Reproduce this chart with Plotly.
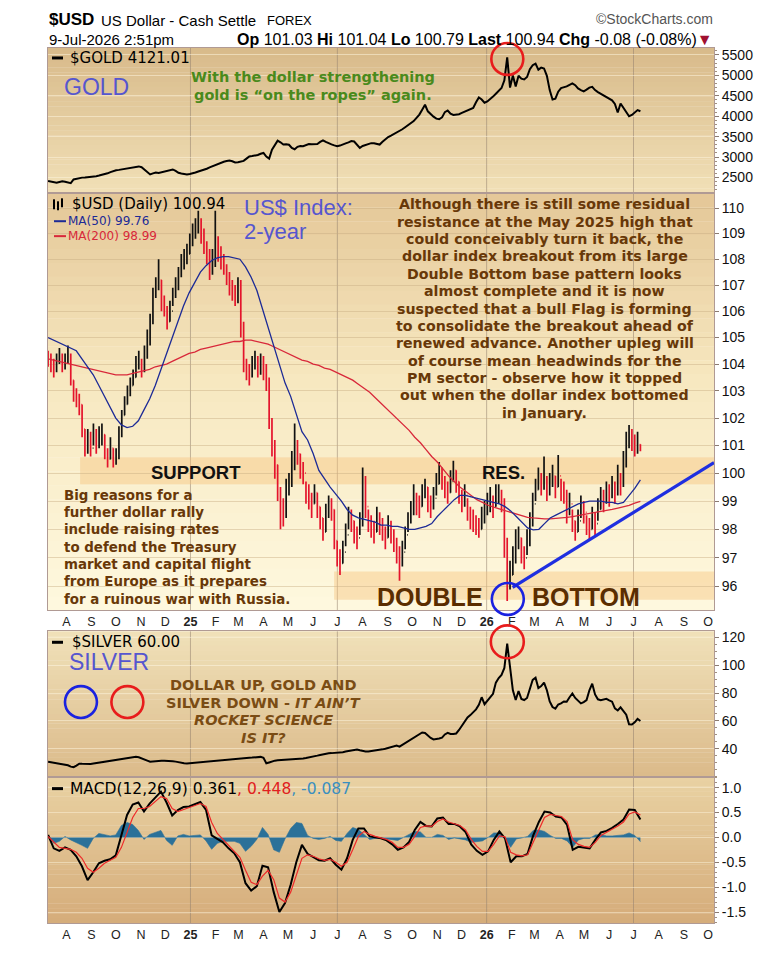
import numpy as np
import pandas as pd
import plotly.graph_objects as go

# ---------------- data ----------------
usd_close = [104.2,104.0,103.8,104.1,104.3,104.0,104.1,104.3,103.4,102.9,
102.7,102.5,101.6,100.9,101.1,100.9,101.5,101.0,101.3,101.4,
100.8,100.5,100.9,100.4,100.6,101.4,102.1,102.5,102.9,103.2,
103.5,104.0,104.1,103.8,104.3,104.8,105.6,106.6,106.9,107.2,
106.3,106.1,105.6,106.0,106.6,106.9,107.4,107.9,108.0,108.2,
108.6,108.9,109.2,109.5,108.9,108.6,108.3,107.6,107.8,108.6,
108.3,108.0,107.7,107.4,107.0,106.8,106.6,106.7,105.5,104.0,
103.8,103.6,103.9,104.2,103.8,104.0,103.9,103.4,101.8,101.0,
100.3,99.4,98.6,98.5,99.3,99.6,100.2,101.1,100.7,100.2,
100.0,99.3,99.1,98.9,99.3,98.8,98.4,97.9,98.5,98.8,
98.7,97.6,97.0,96.8,97.2,97.8,98.4,98.3,97.9,97.7,
98.2,99.8,98.8,98.2,98.1,97.9,98.3,98.2,98.0,97.7,
98.1,97.9,97.6,97.3,97.0,97.2,97.8,98.3,98.6,99.2,
98.9,98.8,99.2,99.5,99.0,98.8,99.1,99.6,100.1,99.8,
99.5,99.3,99.7,100.1,99.7,99.3,99.0,99.2,98.7,98.4,
98.3,98.1,98.0,98.4,98.6,98.9,99.0,98.8,99.2,99.3,
99.0,97.6,96.2,96.4,96.9,97.6,97.7,97.2,97.0,97.5,
98.2,98.9,99.4,99.8,99.6,99.8,99.4,99.6,99.9,99.5,
99.9,99.4,99.3,98.6,98.9,98.3,97.9,98.3,98.8,98.6,
98.1,98.0,98.4,98.2,98.7,99.1,99.0,99.3,99.2,99.5,
99.3,99.8,99.6,100.3,101.0,101.4,101.2,101.0,101.03,100.94]

usd_high = [104.5,104.4,104.2,104.4,104.6,104.4,104.4,104.7,104.4,103.4,
103.1,102.9,102.5,101.6,101.6,101.5,101.8,101.6,101.7,101.8,
101.4,100.9,101.3,100.9,100.9,101.7,102.3,102.8,103.2,103.5,
103.8,104.3,104.5,104.2,104.7,105.3,105.9,106.9,107.3,108.0,
107.2,106.6,106.2,106.4,106.9,107.3,107.7,108.2,108.4,108.6,
109.0,109.4,109.6,109.9,109.6,109.2,108.7,108.4,108.4,109.9,
108.9,108.5,108.2,107.8,107.5,107.2,107.0,107.3,107.2,105.6,
104.2,104.0,104.3,104.5,104.3,104.4,104.3,104.0,103.5,102.0,
101.2,100.3,99.5,99.1,99.8,100.0,100.8,101.8,101.2,100.7,
100.4,99.7,99.6,99.3,99.6,99.3,98.8,98.4,98.9,99.2,
99.1,98.7,97.6,97.3,97.6,98.2,98.8,98.7,98.3,98.1,
98.6,100.2,99.9,98.7,98.5,98.3,98.8,98.6,98.4,98.1,
98.5,98.3,98.0,97.7,97.4,97.6,98.1,98.6,99.0,99.6,
99.3,99.2,99.6,99.8,99.5,99.2,99.5,100.0,100.4,100.2,
99.9,99.7,100.1,100.45,100.1,99.7,99.4,99.6,99.1,98.8,
98.7,98.5,98.4,98.8,99.0,99.3,99.5,99.2,99.6,99.6,
99.4,99.1,97.7,96.9,97.4,98.0,98.1,97.7,97.4,98.0,
98.6,99.3,99.8,100.2,100.0,100.6,99.9,100.0,100.3,99.9,
100.65,99.8,99.7,99.4,99.3,98.7,98.3,98.7,99.2,99.0,
98.5,98.4,98.8,98.6,99.1,99.5,99.4,99.7,99.6,99.9,
99.7,100.3,100.0,100.8,101.5,101.75,101.6,101.4,101.5,101.04]

usd_low = [103.9,103.7,103.5,103.7,104.0,103.7,103.8,104.0,103.2,102.6,
102.4,102.1,101.3,100.6,100.7,100.6,101.0,100.7,100.9,101.0,
100.5,100.2,100.5,100.2,100.3,100.5,101.3,102.1,102.5,102.8,
103.2,103.5,103.8,103.5,103.7,104.2,104.7,105.5,106.5,106.8,
106.0,105.8,105.3,105.6,106.2,106.5,106.8,107.3,107.6,107.8,
108.2,108.5,108.8,109.0,108.6,108.2,107.8,107.2,107.4,107.7,
107.9,107.6,107.4,107.0,106.6,106.4,106.2,106.3,105.0,103.7,
103.4,103.2,103.5,103.8,103.5,103.6,103.4,103.0,101.6,100.6,
99.8,99.0,98.0,98.1,98.4,99.2,99.5,100.1,100.3,99.8,
99.6,98.9,98.7,98.4,98.9,98.4,98.0,97.6,97.9,98.4,
98.3,97.3,96.7,96.4,96.8,97.4,98.0,97.9,97.5,97.3,
97.8,98.1,98.4,97.9,97.7,97.5,97.9,97.8,97.6,97.3,
97.7,97.5,97.2,96.8,96.2,96.7,97.3,97.9,98.2,98.5,
98.5,98.4,98.8,99.1,98.6,98.4,98.7,99.2,99.6,99.4,
99.1,98.9,99.3,99.7,99.3,98.9,98.6,98.8,98.3,98.0,
97.9,97.8,97.7,98.0,98.2,98.5,98.6,98.4,98.8,98.9,
98.6,97.0,95.5,95.9,96.4,96.8,97.3,96.8,96.6,97.1,
97.4,98.1,99.0,99.4,99.2,99.4,99.0,99.2,99.5,99.1,
99.5,99.0,98.9,98.2,98.5,97.9,97.6,97.9,98.4,98.2,
97.8,97.6,98.0,97.8,98.3,98.7,98.6,98.9,98.8,99.1,
98.9,99.2,99.2,99.5,100.2,100.9,100.8,100.6,100.7,100.79]

gold_close = [2410,2400,2385,2372,2390,2405,2395,2370,2360,2450,
2470,2488,2495,2500,2505,2510,2515,2530,2545,2560,
2580,2600,2630,2655,2675,2685,2695,2705,2712,2725,
2736,2750,2770,2750,2690,2620,2573,2600,2620,2610,
2625,2640,2655,2675,2695,2660,2615,2595,2585,2573,
2585,2598,2620,2645,2665,2690,2712,2745,2775,2805,
2830,2860,2885,2900,2915,2895,2865,2870,2885,2905,
2960,3015,3025,3032,3050,3080,3100,3010,2960,3180,
3290,3400,3360,3305,3315,3300,3220,3190,3250,3270,
3265,3290,3318,3315,3310,3320,3370,3410,3370,3330,
3310,3285,3265,3280,3300,3335,3360,3390,3380,3300,
3225,3270,3300,3320,3340,3335,3320,3305,3375,3445,
3490,3525,3560,3595,3630,3680,3730,3780,3830,3880,
3960,4040,4160,4280,4120,4050,3990,3940,3925,3970,
4100,4140,4060,4030,4040,4050,4080,4110,4130,4165,
4200,4340,4460,4410,4330,4360,4410,4480,4550,4620,
4690,4880,5440,4700,5000,4730,4990,4920,4900,4960,
5150,5250,5290,5140,5190,5170,4990,4640,4410,4430,
4600,4690,4710,4730,4770,4805,4760,4680,4640,4610,
4650,4700,4720,4640,4590,4550,4515,4480,4450,4390,
4300,4090,4310,4200,4120,4000,4030,4100,4150,4121.01]

silver_close = [30.7,30.3,29.9,29.5,29.2,28.9,28.6,28.2,27.2,26.8,
28.0,29.3,29.2,29.0,29.2,29.1,29.4,29.7,30.0,30.4,
30.8,31.2,31.4,31.6,31.8,31.9,32.2,32.6,33.0,33.4,
33.8,34.2,33.9,32.9,32.3,31.5,30.7,31.0,31.3,31.4,
31.4,31.4,31.4,31.2,31.0,30.8,30.3,30.0,29.7,29.5,
29.7,29.9,30.0,30.1,30.3,30.5,30.7,31.0,31.3,31.7,
31.9,32.1,32.3,32.4,32.6,32.8,32.9,33.0,33.1,33.3,
33.5,33.6,33.7,33.9,34.0,34.2,33.5,29.6,30.2,30.9,
31.5,31.7,31.8,31.9,32.1,32.3,32.4,32.6,32.8,32.9,
33.1,33.4,33.7,34.1,34.6,35.1,35.6,36.1,36.6,36.8,
36.9,37.0,37.1,37.2,37.6,38.1,38.5,38.8,39.2,39.4,
38.9,38.4,38.0,38.1,38.3,38.5,38.7,39.1,39.6,40.1,
40.7,41.4,42.0,42.3,41.6,42.8,44.0,45.3,46.4,47.6,
48.9,50.4,51.7,51.3,49.2,47.8,46.7,46.9,47.4,48.0,
50.3,51.5,50.6,50.7,51.0,53.5,56.7,58.9,62.5,64.2,
65.9,68.3,71.5,77.0,72.0,74.4,76.8,79.5,87.5,90.8,
93.0,98.0,115.5,100.0,82.0,75.0,81.5,75.8,75.0,76.5,
83.5,89.5,91.0,83.6,85.0,87.5,82.0,74.0,70.0,68.8,
71.8,72.6,74.0,73.8,77.0,79.7,76.5,74.5,72.6,73.5,
75.0,82.0,86.7,79.0,75.5,74.9,75.5,75.9,74.8,73.8,
69.0,67.5,69.8,66.8,64.5,57.6,57.4,59.0,61.5,60.0]

ma50 = [105.0,104.9,104.8,104.7,104.6,104.5,104.2,103.9,103.6,103.2,
102.8,102.4,102.0,101.75,101.65,101.7,101.9,102.3,102.7,103.2,
103.8,104.4,105.0,105.6,106.2,106.7,107.1,107.5,107.75,107.95,
108.05,108.1,108.1,108.05,108.0,107.7,107.3,106.8,106.1,105.4,
104.7,104.0,103.3,102.8,102.1,101.5,101.2,100.7,100.1,99.8,
99.5,99.25,99.0,98.7,98.5,98.4,98.35,98.3,98.25,98.15,
98.15,98.1,98.1,98.05,98.0,98.0,98.05,98.1,98.2,98.45,
98.65,98.85,99.05,99.2,99.2,99.15,99.1,99.05,99.0,98.95,
98.9,98.8,98.65,98.45,98.25,98.05,97.98,98.0,98.2,98.4,
98.5,98.6,98.7,98.8,98.9,98.95,99.0,99.0,99.0,98.95,
98.95,98.9,98.95,99.2,99.45,99.76]

ma200 = [104.2,104.15,104.1,104.05,104.0,103.95,103.9,103.85,103.8,103.75,
103.7,103.65,103.6,103.6,103.6,103.65,103.7,103.75,103.8,103.9,
103.95,104.0,104.1,104.2,104.3,104.4,104.45,104.55,104.6,104.65,
104.7,104.75,104.8,104.85,104.85,104.9,104.9,104.85,104.8,104.75,
104.65,104.55,104.45,104.35,104.25,104.15,104.1,104.0,103.95,103.85,
103.8,103.7,103.6,103.5,103.4,103.25,103.1,102.95,102.75,102.55,
102.35,102.15,101.95,101.75,101.55,101.3,101.1,100.85,100.6,100.4,
100.15,99.9,99.7,99.5,99.35,99.2,99.05,98.95,98.85,98.78,
98.72,98.65,98.58,98.52,98.47,98.42,98.4,98.38,98.37,98.37,
98.38,98.4,98.42,98.45,98.48,98.52,98.56,98.6,98.63,98.66,
98.7,98.75,98.8,98.85,98.93,98.99]

macd_line = [0.05,-0.22,-0.27,-0.20,-0.25,-0.38,-0.58,-0.86,-0.70,-0.52,
-0.47,-0.44,-0.36,0.05,0.45,0.66,0.70,0.52,0.68,0.80,
0.92,0.70,0.44,0.55,0.61,0.62,0.66,0.71,0.55,0.04,
-0.03,-0.10,-0.22,-0.32,-0.50,-0.92,-1.07,-0.98,-0.57,-0.60,
-1.10,-1.50,-1.32,-0.95,-0.50,-0.15,-0.33,-0.40,-0.46,-0.47,
-0.42,-0.55,-0.65,-0.42,-0.05,0.18,0.18,0.02,0.00,-0.02,
-0.06,-0.14,-0.25,-0.20,-0.09,0.15,0.31,0.23,0.22,0.38,
0.40,0.27,0.27,0.22,0.11,-0.14,-0.27,-0.35,-0.28,-0.05,
0.12,-0.02,-0.50,-0.38,-0.38,-0.33,0.04,0.31,0.52,0.50,
0.42,0.40,0.25,-0.25,-0.19,-0.20,-0.22,-0.05,0.10,0.13,
0.19,0.27,0.36,0.56,0.55,0.361]

macd_signal = [0.02,-0.10,-0.20,-0.22,-0.24,-0.30,-0.42,-0.62,-0.70,-0.62,
-0.52,-0.46,-0.40,-0.20,0.10,0.40,0.58,0.58,0.62,0.72,
0.82,0.78,0.58,0.52,0.56,0.60,0.63,0.68,0.62,0.30,
0.08,-0.04,-0.15,-0.26,-0.40,-0.66,-0.90,-0.95,-0.78,-0.66,
-0.85,-1.22,-1.30,-1.10,-0.78,-0.42,-0.35,-0.38,-0.43,-0.46,
-0.44,-0.50,-0.58,-0.50,-0.25,0.02,0.12,0.06,0.02,-0.01,
-0.04,-0.10,-0.20,-0.20,-0.14,0.02,0.20,0.23,0.22,0.32,
0.37,0.31,0.28,0.24,0.15,-0.04,-0.18,-0.28,-0.28,-0.14,
0.03,0.01,-0.30,-0.35,-0.37,-0.35,-0.10,0.16,0.40,0.46,
0.44,0.42,0.32,-0.05,-0.14,-0.18,-0.20,-0.10,0.04,0.10,
0.16,0.23,0.31,0.47,0.51,0.448]

macd_hist = [0.03,-0.12,-0.08,0.02,-0.05,-0.10,-0.16,-0.22,-0.02,0.08,
0.05,0.03,0.05,0.24,0.30,0.26,0.14,-0.04,0.06,0.10,
0.14,-0.06,-0.16,0.03,0.06,0.03,0.04,0.05,-0.07,-0.24,
-0.12,-0.08,-0.08,-0.08,-0.12,-0.28,-0.18,-0.04,0.20,0.06,
-0.25,-0.30,-0.03,0.18,0.30,0.28,0.04,-0.02,-0.04,-0.02,
0.02,-0.06,-0.08,0.08,0.20,0.16,0.06,-0.04,-0.02,-0.01,
-0.03,-0.05,-0.06,0.00,0.06,0.12,0.11,0.00,0.00,0.06,
0.04,-0.04,-0.01,-0.03,-0.05,-0.10,-0.09,-0.07,0.00,0.09,
0.09,-0.03,-0.20,-0.03,-0.01,0.02,0.14,0.15,0.12,0.04,
-0.02,-0.02,-0.07,-0.20,-0.05,-0.02,-0.02,0.05,0.06,0.03,
0.03,0.04,0.05,0.09,0.04,-0.087]

first_open = 104.3
usd_open = [first_open] + usd_close[:-1]   # each bar opens at the prior close

daily_dates = pd.date_range("2024-07-09 12:00", "2026-07-09 12:00", periods=len(usd_close))
weekly_dates = pd.date_range("2024-07-09 12:00", "2026-07-09 12:00", periods=len(ma50))

month_labels = ["A","S","O","N","D","<b>25</b>","F","M","A","M","J","J","A","S","O",
                "N","D","<b>26</b>","F","M","A","M","J","J","A","S","O"]
month_ticks = pd.date_range("2024-08-01", periods=len(month_labels), freq="MS")
half_year_lines = ["2025-01-01", "2025-07-01", "2026-01-01", "2026-07-01"]

gold_ticks = [2500, 3000, 3500, 4000, 4500, 5000, 5500]
usd_ticks = list(range(96, 111))
silver_ticks = [40, 60, 80, 100, 120]
macd_ticks = [-1.5, -1.0, -0.5, 0.0, 0.5, 1.0]
macd_tick_text = ["-1.5", "-1.0", "-0.5", "0.0", "0.5", "1.0"]

support_band = (99.6, 100.57, "2024-08-18")
bottom_band = (95.55, 96.52, "2025-06-27")
trend_dates = ["2026-02-02", "2026-10-08 05:00"]
trend_vals = [95.97, 100.38]

X_RANGE = ["2024-07-09 09:30", "2026-10-08 05:00"]

# ---------------- geometry ----------------
W, H = 765, 954
L, R, T, B = 48, 715, 48, 927
def px(x): return (x - L) / (R - L)
def py(y): return (B - y) / (B - T)

P_GOLD = (48, 194)
P_USD = (194, 613)
P_SIL = (634, 780)
P_MACD = (780, 927)

BORDER = "#b09a94"
FONT = "Liberation Sans"
LEG = "DejaVu Sans"
WIDE = "DejaVu Sans"

shapes = []
annotations = []

def gradient(y_top, y_bot, stops, n=30):
    for k in range(n):
        t = (k + 0.5) / n
        for s in range(len(stops) - 1):
            if stops[s][0] <= t <= stops[s + 1][0]:
                t0, c0 = stops[s]; t1, c1 = stops[s + 1]
                f = (t - t0) / (t1 - t0)
                col = tuple(int(round(c0[i] + (c1[i] - c0[i]) * f)) for i in range(3))
                break
        ya = y_top + (y_bot - y_top) * k / n
        yb = y_top + (y_bot - y_top) * (k + 1) / n
        shapes.append(dict(type="rect", xref="paper", yref="paper", x0=0, x1=1,
                           y0=py(yb) - 0.0004, y1=py(ya), fillcolor="rgb(%d,%d,%d)" % col,
                           line=dict(width=0), layer="below"))

gradient(*P_GOLD, [(0, (216, 186, 138)), (1, (241, 224, 183))])
gradient(*P_USD, [(0, (228, 199, 152)), (0.45, (247, 232, 192)), (1, (254, 249, 223))])
gradient(*P_SIL, [(0, (240, 225, 185)), (1, (219, 186, 138))])
gradient(*P_MACD, [(0, (233, 210, 163)), (1, (213, 172, 122))])

for (yt, yb) in (P_GOLD, P_USD, P_SIL, P_MACD):
    for d in half_year_lines:
        shapes.append(dict(type="line", xref="x", yref="paper", x0=d, x1=d, y0=py(yb), y1=py(yt),
                           line=dict(color="rgba(150,130,112,0.55)", width=1), layer="below"))

for lo, hi, start in (support_band, bottom_band):
    shapes.append(dict(type="rect", xref="x2", yref="y2", x0=start, x1=X_RANGE[1], y0=lo, y1=hi,
                       fillcolor="rgba(246,192,122,0.42)", line=dict(width=0), layer="below"))

shapes.append(dict(type="line", xref="x2", yref="y2", x0=trend_dates[0], x1=trend_dates[1],
                   y0=trend_vals[0], y1=trend_vals[1], line=dict(color="#1f2fe0", width=3.2), layer="above"))

def circle(cx, cy, r, color):
    shapes.append(dict(type="circle", xref="paper", yref="paper",
                       x0=px(cx - r), x1=px(cx + r), y0=py(cy + r), y1=py(cy - r),
                       line=dict(color=color, width=2.6), layer="above"))

circle(508, 59, 16, "#e81c1c")
circle(508.5, 601.5, 16, "#1a22e0")
circle(508, 644.5, 16.5, "#e81c1c")
circle(81, 705, 16, "#1a22e0")
circle(127.5, 705, 16, "#e81c1c")

def dash(x0, x1, y, color, w=3):
    shapes.append(dict(type="line", xref="paper", yref="paper", x0=px(x0), x1=px(x1), y0=py(y), y1=py(y),
                       line=dict(color=color, width=w), layer="above"))

dash(52, 63, 58, "black")
dash(54, 66, 222, "#1c2a96", 2)
dash(54, 66, 237, "#d8283a", 2)
dash(52, 63, 645, "black")
dash(52, 63, 792, "black")
for xx, y0, y1 in ((54, 200, 210), (58, 202, 211), (62, 199, 208)):
    shapes.append(dict(type="line", xref="paper", yref="paper", x0=px(xx), x1=px(xx), y0=py(y1), y1=py(y0),
                       line=dict(color="black", width=2), layer="above"))

def txt(s, x, y, size, color="#000", bold=False, anchor="left", family=FONT):
    if bold:
        s = "<b>" + s + "</b>"
    annotations.append(dict(text=s, x=px(x), y=py(y), xref="paper", yref="paper", xanchor=anchor,
                            yanchor="middle", showarrow=False, font=dict(size=size, color=color, family=family)))

# header
txt("$USD", 47, 19, 17, bold=True)
txt("US Dollar - Cash Settle", 99, 20, 15)
txt("FOREX", 265, 20, 13)
txt("©StockCharts.com", 716, 19, 14, color="#555", anchor="right")
txt("9-Jul-2026 2:51pm", 47, 39, 15)
txt("<b>Op</b> 101.03 <b>Hi</b> 101.04 <b>Lo</b> 100.79 <b>Last</b> 100.94 <b>Chg</b> -0.08 (-0.08%)"
    "<span style='color:#a01030'>▼</span>", 716, 39, 16, anchor="right")

# legends
txt("$GOLD 4121.01", 68, 58, 15, family=LEG)
txt("$USD (Daily) 100.94", 70, 205, 15, family=LEG)
txt("MA(50) 99.76", 66, 222, 12, color="#1c2a96", family=LEG)
txt("MA(200) 98.99", 66, 237, 12, color="#d8283a", family=LEG)
txt("$SILVER 60.00", 70, 645, 15, family=LEG)
txt("MACD(12,26,9) 0.361<span style='color:#e02020'>, 0.448</span><span style='color:#3a8fc0'>, -0.087</span>",
    68, 792, 15.5, family=LEG)

BLUE = "#5656cf"
txt("GOLD", 62, 87, 23, color=BLUE)
txt("US$ Index:", 242, 208, 22, color=BLUE)
txt("2-year", 242, 232, 22, color=BLUE)
txt("SILVER", 67, 665, 23, color=BLUE)

GREEN = "#4a8a1c"
txt("With the dollar strengthening", 313, 77, 14.5, color=GREEN, bold=True, anchor="center", family=WIDE)
txt("gold is “on the ropes” again.", 313, 95, 14.5, color=GREEN, bold=True, anchor="center", family=WIDE)

BROWN = "#683808"
para = ["Although there is still some residual",
        "resistance at the May 2025 high that",
        "could conceivably turn it back, the",
        "dollar index breakout from its large",
        "Double Bottom base pattern looks",
        "almost complete and it is now",
        "suspected that a bull Flag is forming",
        "to consolidate the breakout ahead of",
        "renewed advance. Another upleg will",
        "of course mean headwinds for the",
        "PM sector - observe how it topped",
        "out when the dollar index bottomed",
        "in January."]
for k, line in enumerate(para):
    txt(line, 545.5, 205 + 17.45 * k, 14.2, color=BROWN, bold=True, anchor="center", family=WIDE)

reasons = ["Big reasons for a",
           "further dollar rally",
           "include raising rates",
           "to defend the Treasury",
           "market and capital flight",
           "from Europe as it prepares",
           "for a ruinous war with Russia."]
for k, line in enumerate(reasons):
    txt(line, 62, 497.3 + 17.4 * k, 13.4, color=BROWN, bold=True, family=WIDE)

txt("SUPPORT", 196, 474, 18.5, color="#111", bold=True, anchor="center")
txt("RES.", 504, 474, 18.5, color="#111", bold=True, anchor="center")
txt("DOUBLE", 431, 600, 25, color="#5a2d00", bold=True, anchor="center")
txt("BOTTOM", 587, 600, 25, color="#5a2d00", bold=True, anchor="center")

SBROWN = "#7a4c14"
sil = ["DOLLAR UP, GOLD AND", "SILVER DOWN - <i>IT AIN’T</i>", "<i>ROCKET SCIENCE</i>", "<i>IS IT?</i>"]
for k, line in enumerate(sil):
    txt(line, 263.5, 688.3 + 17.6 * k, 14.5, color=SBROWN, bold=True, anchor="center", family=WIDE)

# ---------------- traces ----------------
fig = go.Figure()
fig.add_trace(go.Scatter(x=daily_dates, y=gold_close, mode="lines", line=dict(color="black", width=2),
                         xaxis="x", yaxis="y", hoverinfo="skip"))
fig.add_trace(go.Ohlc(x=daily_dates, open=usd_open, high=usd_high, low=usd_low, close=usd_close,
                      increasing=dict(line=dict(color="#111111", width=1.7)),
                      decreasing=dict(line=dict(color="#e4142c", width=1.7)),
                      tickwidth=0.25, xaxis="x2", yaxis="y2", hoverinfo="skip"))
fig.add_trace(go.Scatter(x=weekly_dates, y=ma200, mode="lines", line=dict(color="#d8283a", width=1.3),
                         xaxis="x2", yaxis="y2", hoverinfo="skip"))
fig.add_trace(go.Scatter(x=weekly_dates, y=ma50, mode="lines", line=dict(color="#1c2a96", width=1.3),
                         xaxis="x2", yaxis="y2", hoverinfo="skip"))
fig.add_trace(go.Scatter(x=daily_dates, y=silver_close, mode="lines", line=dict(color="black", width=2),
                         xaxis="x3", yaxis="y3", hoverinfo="skip"))
fig.add_trace(go.Scatter(x=weekly_dates, y=macd_hist, mode="lines", fill="tozeroy",
                         line=dict(color="#2b7199", width=0.6), fillcolor="#2b7199",
                         xaxis="x4", yaxis="y4", hoverinfo="skip"))
fig.add_trace(go.Scatter(x=weekly_dates, y=macd_line, mode="lines", line=dict(color="black", width=2),
                         xaxis="x4", yaxis="y4", hoverinfo="skip"))
fig.add_trace(go.Scatter(x=weekly_dates, y=macd_signal, mode="lines", line=dict(color="#ee2a2a", width=1.2),
                         xaxis="x4", yaxis="y4", hoverinfo="skip"))

def xax(anchor, labels):
    return dict(type="date", range=X_RANGE, anchor=anchor, tickvals=list(month_ticks), ticktext=month_labels,
                showticklabels=labels, ticks="", showgrid=False, zeroline=False,
                showline=True, mirror=True, linecolor=BORDER, linewidth=1,
                tickfont=dict(family=FONT, size=12.5, color="#222"), rangeslider=dict(visible=False))

def yax(anchor, dom, rng, vals, grid, text=None, typ="linear", minor_dtick=None):
    d = dict(domain=dom, anchor=anchor, side="right", range=rng, tickvals=vals, type=typ,
             ticks="outside", ticklen=4, tickcolor="#8a7a70", showgrid=True, gridcolor=grid, gridwidth=1,
             zeroline=False, showline=True, mirror=True, linecolor=BORDER, linewidth=1,
             tickfont=dict(family=FONT, size=14, color="#111"))
    if text is not None:
        d["ticktext"] = text
    if minor_dtick is not None:
        d["minor"] = dict(dtick=minor_dtick, ticks="outside", ticklen=2, tickcolor="#a09080", showgrid=False)
    return d

fig.update_layout(
    width=W, height=H, margin=dict(l=L, r=W - R, t=T, b=H - B),
    paper_bgcolor="white", plot_bgcolor="rgba(0,0,0,0)", showlegend=False,
    font=dict(family=FONT, color="#111"),
    xaxis=xax("y", False), xaxis2=xax("y2", True), xaxis3=xax("y3", False), xaxis4=xax("y4", True),
    yaxis=yax("x", [py(P_GOLD[1]), 1.0], [2110, 5671], gold_ticks, "rgba(252,242,218,0.55)", minor_dtick=100),
    yaxis2=yax("x2", [py(P_USD[1]), py(P_USD[0])], [np.log10(95.18), np.log10(110.59)], usd_ticks,
               "rgba(200,172,130,0.45)", typ="log"),
    yaxis3=yax("x3", [py(P_SIL[1]), py(P_SIL[0])], [20, 124.3], silver_ticks, "rgba(252,242,218,0.55)", minor_dtick=5),
    yaxis4=yax("x4", [0.0, py(P_MACD[0])], [-1.72, 1.22], macd_ticks, "rgba(252,242,218,0.5)",
               text=macd_tick_text, minor_dtick=0.1),
    shapes=shapes, annotations=annotations,
)

fig.write_html("out.html", config={"displayModeBar": False})
